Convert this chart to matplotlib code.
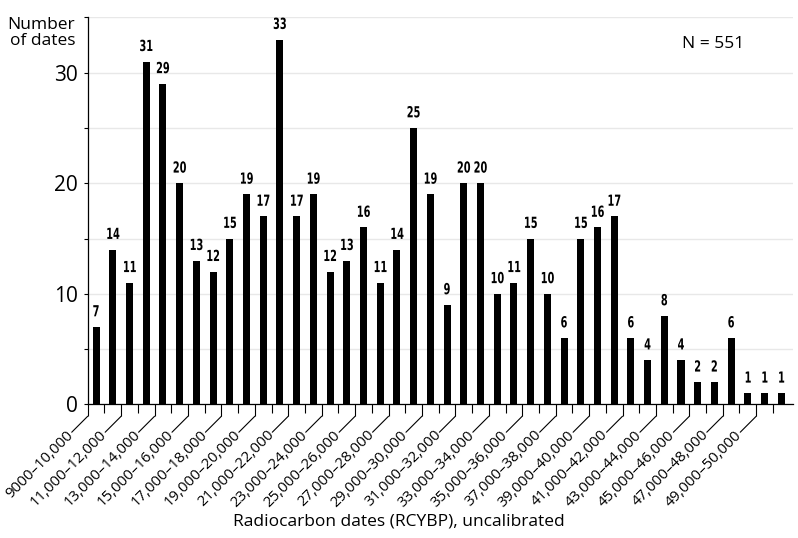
# -*- coding: utf-8 -*-
"""
Histogram of radiocarbon dates (RCYBP, uncalibrated) in 1000-year bins.
"""
import matplotlib
matplotlib.use('Agg')
import matplotlib.pyplot as plt
from matplotlib import patheffects
from matplotlib.transforms import Affine2D, offset_copy

# Data: one bin per 1000 years, starting at 9000-10,000
counts = [7, 14, 11, 31, 29, 20, 13, 12, 15, 19, 17, 33, 17, 19, 12, 13, 16,
          11, 14, 25, 19, 9, 20, 20, 10, 11, 15, 10, 6, 15, 16, 17, 6, 4, 8,
          4, 2, 2, 6, 1, 1, 1]
bin_labels = ['9000\u201310,000'] + [
    '{:,}\u2013{:,}'.format(lo, lo + 1000) for lo in range(11000, 50000, 2000)
]
y_major = [0, 10, 20, 30]
y_minor = [5, 15, 25, 35]
total_label = 'N = 551'

TEXT_FONT = ['Open Sans', 'DejaVu Sans']
BAR_FONT = ['DejaVu Sans']

plt.rcParams['font.family'] = TEXT_FONT


class Condense(patheffects.AbstractPathEffect):
    """Squeeze a text path horizontally about its own centre."""

    def __init__(self, sx=0.65):
        super().__init__()
        self.sx = sx

    def draw_path(self, renderer, gc, tpath, affine, rgbFace=None):
        ext = tpath.get_extents()
        cx = (ext.x0 + ext.x1) / 2
        squeeze = Affine2D().translate(-cx, 0).scale(self.sx, 1).translate(cx, 0)
        renderer.draw_path(gc, tpath, squeeze + affine, rgbFace)


fig = plt.figure(figsize=(7.98, 5.38), dpi=100)
ax = fig.add_axes([0.1099, 0.2485, 0.8838, 0.7191])

x = list(range(len(counts)))
ax.bar(x, counts, width=0.42, color='black', zorder=3)

for xi, c in zip(x, counts):
    ax.annotate(str(c), xy=(xi, c), xytext=(0, 5.5), textcoords='offset points',
                ha='center', va='bottom', fontsize=11, fontweight='bold',
                family=BAR_FONT, path_effects=[Condense(0.64)])

ax.set_xlim(-0.5, 41.7)
ax.set_ylim(0, 35)

# y axis
ax.set_yticks(y_major)
ax.set_yticks(y_minor, minor=True)
ax.tick_params(axis='y', which='both', direction='out', length=3, width=0.8,
               labelsize=15, pad=4)
ax.yaxis.grid(True, which='both', color='#e8e8e8', linewidth=1, zorder=0)
ax.set_axisbelow(True)

# x axis: long ticks at every other bin edge carry a leader line to the label
major_pos = [k - 0.5 for k in range(0, 42, 2)]
minor_pos = [k - 0.5 for k in range(1, 42, 2)]
ax.set_xticks(major_pos)
ax.set_xticks(minor_pos, minor=True)
ax.set_xticklabels([])
ax.tick_params(axis='x', which='major', direction='out', length=8.6, width=0.8)
ax.tick_params(axis='x', which='minor', direction='out', length=6.5, width=0.8)

tick_end = offset_copy(ax.get_xaxis_transform(), fig=fig, y=-8.6, units='points')
for pos, lab in zip(major_pos, bin_labels):
    ax.annotate('', xy=(pos, 0), xycoords=tick_end,
                xytext=(-11.5, -11.5), textcoords='offset points',
                arrowprops=dict(arrowstyle='-', lw=0.8, color='black',
                                shrinkA=0, shrinkB=0))
    ax.annotate(lab, xy=(pos, 0), xycoords=tick_end,
                xytext=(-12, -12), textcoords='offset points',
                rotation=45, rotation_mode='anchor', ha='right', va='center',
                fontsize=10.8)

for side in ('top', 'right'):
    ax.spines[side].set_visible(False)
ax.spines['left'].set_linewidth(0.9)
ax.spines['bottom'].set_linewidth(0.9)

ax.text(-0.018, 0.96, 'Number\nof dates', transform=ax.transAxes,
        ha='right', va='center', multialignment='right', fontsize=12.5,
        linespacing=0.95)
ax.text(0.887, 32.6, total_label, ha='center', va='center', fontsize=12.5,
        transform=ax.get_yaxis_transform())

fig.text(0.5, 0.031, 'Radiocarbon dates (RCYBP), uncalibrated',
         ha='center', va='center', fontsize=12.5)

fig.savefig('out.png', dpi=100)
